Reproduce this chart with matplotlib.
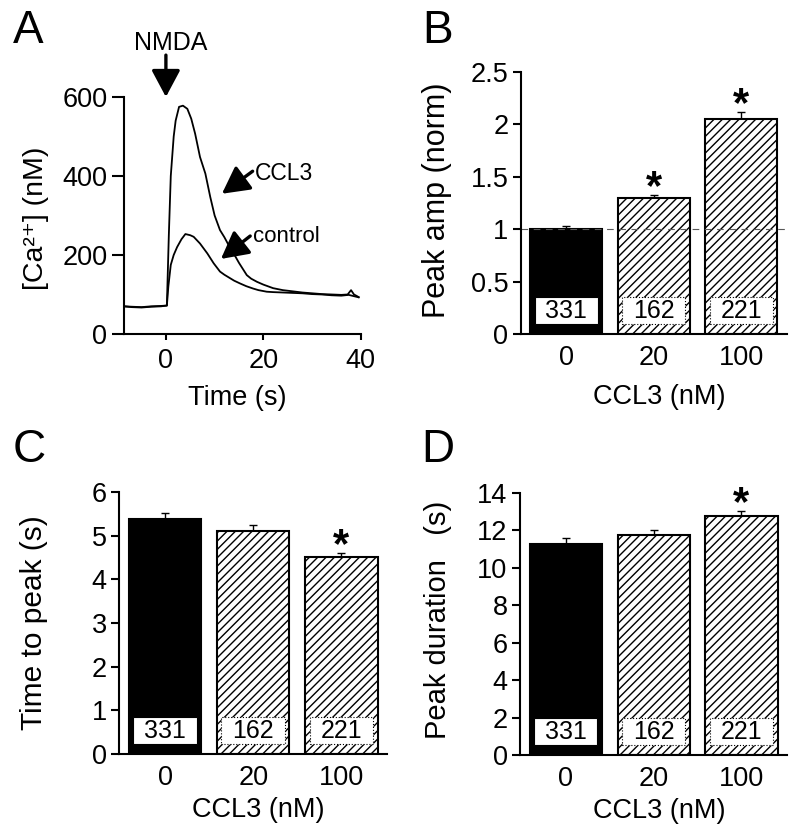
import matplotlib
matplotlib.use("Agg")
import matplotlib.pyplot as plt
from matplotlib.patches import Rectangle
import matplotlib.transforms as mtransforms

plt.rcParams['font.family'] = ['Liberation Sans', 'DejaVu Sans']
plt.rcParams['hatch.linewidth'] = 1.0

# panel A: calcium traces
t_ctrl = [-8.6, -7, -5, -3, -1, 0.2, 0.5, 1.0, 1.6, 2.3, 3.2, 4.0, 5.0, 5.7, 7.0, 8.5, 9.8,
          11.1, 12.0, 13.2, 14.0, 15.2, 16.5, 17.9, 19.0, 20.7, 22, 24, 26, 28, 30, 32, 34,
          36, 37.5, 38.5, 39.5]
ca_ctrl = [70, 68, 67, 69, 70, 72, 120, 175, 200, 220, 240, 253, 250, 246, 229, 204, 179,
           158, 150, 141, 135, 128, 121, 115, 111, 107, 106, 105, 104, 103, 101, 100, 98,
           97, 99, 96, 93]
t_ccl3 = [-8.6, -7, -5, -3, -1, 0.2, 0.6, 1.0, 1.6, 2.0, 2.7, 3.5, 4.4, 5.2, 6.0, 7.0, 8.1,
          9.1, 10.0, 11.1, 12.0, 13.0, 13.9, 15.0, 16.6, 17.5, 18.7, 20, 22, 24, 26, 28,
          30, 32, 34, 36, 37.3, 38.0, 38.6, 39.2, 39.6]
ca_ccl3 = [70, 69, 68, 70, 71, 72, 250, 400, 500, 540, 575, 578, 570, 545, 507, 448, 406,
           347, 300, 263, 245, 222, 204, 180, 149, 140, 132, 125, 116, 111, 108, 105,
           103, 101, 100, 99, 100, 111, 100, 96, 93]

# bar panels
conc_labels = ['0', '20', '100']
n_cells = ['331', '162', '221']

peak_amp = [1.0, 1.30, 2.05]
peak_amp_err = [0.03, 0.03, 0.07]
peak_amp_sig = [False, True, True]

time_to_peak = [5.37, 5.10, 4.50]
time_to_peak_err = [0.15, 0.14, 0.11]
time_to_peak_sig = [False, False, True]

peak_dur = [11.26, 11.73, 12.76]
peak_dur_err = [0.34, 0.27, 0.26]
peak_dur_sig = [False, False, True]


def style_axes(ax):
    ax.spines['top'].set_visible(False)
    ax.spines['right'].set_visible(False)
    ax.spines['left'].set_linewidth(1.5)
    ax.spines['bottom'].set_linewidth(1.5)


def draw_trace(ax):
    ax.plot(t_ctrl, ca_ctrl, 'k', lw=1.3, clip_on=False)
    ax.plot(t_ccl3, ca_ccl3, 'k', lw=1.3, clip_on=False)
    ax.set_xlim(-8.6, 40)
    ax.set_ylim(0, 600)
    ax.set_xticks([0, 20, 40])
    ax.set_yticks([0, 200, 400, 600])
    style_axes(ax)
    ax.tick_params(axis='y', length=9, width=1.5, labelsize=19.5, pad=3)
    ax.tick_params(axis='x', length=4, width=1.5, labelsize=19.5, pad=6)
    ax.set_xlabel('Time (s)', fontsize=19.5)
    ax.xaxis.set_label_coords(0.48, -0.215)
    ax.set_ylabel('[Ca²⁺] (nM)', fontsize=20.5)
    ax.yaxis.set_label_coords(-0.315, 0.49)

    head = dict(arrowstyle='-|>,head_length=0.75,head_width=0.4', color='k', lw=2.4,
                mutation_scale=22, shrinkA=0, shrinkB=0)
    ax.annotate('', xy=(0, 600), xytext=(0, 706), arrowprops=head, annotation_clip=False)
    ax.text(1.0, 737, 'NMDA', fontsize=18, ha='center', va='center', clip_on=False)
    ax.annotate('', xy=(11.5, 355), xytext=(17.8, 412), arrowprops=head)
    ax.text(18.3, 407, 'CCL3', fontsize=16.5, ha='left', va='center')
    ax.annotate('', xy=(11.3, 190), xytext=(17.3, 248), arrowprops=head)
    ax.text(17.9, 246, 'control', fontsize=16, ha='left', va='center')


def draw_bars(ax, values, errors, sig, ylim, yticks, ylabel, ylabel_size):
    x = list(range(len(values)))
    faces = ['black', 'white', 'white']
    hatches = [None, '////', '////']
    bars = ax.bar(x, values, width=0.82, color=faces, edgecolor='black', linewidth=1.5,
                  zorder=2)
    for b, h in zip(bars, hatches):
        if h:
            b.set_hatch(h)
    ax.errorbar(x, values, yerr=[[0] * len(values), errors], fmt='none', ecolor='black',
                elinewidth=1.0, capsize=3, capthick=1.0, zorder=1)

    trans = mtransforms.blended_transform_factory(ax.transData, ax.transAxes)
    for xi, n, h in zip(x, n_cells, hatches):
        ls = ':' if h else '-'
        ax.add_patch(Rectangle((xi - 0.36, 0.04), 0.72, 0.10, transform=trans,
                               facecolor='white', edgecolor='black', lw=0.8, ls=ls, zorder=3))
        ax.text(xi, 0.088, n, transform=trans, fontsize=18, ha='center', va='center',
                zorder=4)

    for xi, v, e, s in zip(x, values, errors, sig):
        if s:
            ax.annotate('*', xy=(xi, v + e), xytext=(0, -3), textcoords='offset points',
                        ha='center', va='baseline', fontsize=30, fontweight='bold',
                        annotation_clip=False)

    ax.set_xlim(-0.52, 2.52)
    ax.set_ylim(*ylim)
    ax.set_yticks(yticks)
    ax.set_xticks(x)
    ax.set_xticklabels(conc_labels)
    style_axes(ax)
    ax.tick_params(axis='y', length=6, width=1.5, labelsize=19.5, pad=3)
    ax.tick_params(axis='x', length=0, labelsize=19.5, pad=8)
    ax.set_xlabel('CCL3 (nM)', fontsize=19.5)
    ax.set_ylabel(ylabel, fontsize=ylabel_size)
    return ax


def main():
    fig = plt.figure(figsize=(8, 8.36), dpi=100)

    ax_a = fig.add_axes([0.155, 0.6005, 0.296, 0.2835])
    ax_b = fig.add_axes([0.651, 0.6005, 0.3325, 0.3134])
    ax_c = fig.add_axes([0.149, 0.0981, 0.335, 0.3134])
    ax_d = fig.add_axes([0.650, 0.0969, 0.334, 0.3134])

    draw_trace(ax_a)

    ax_b.axhline(1.0, color='0.35', lw=0.8, dashes=(6, 5), zorder=2.5)
    draw_bars(ax_b, peak_amp, peak_amp_err, peak_amp_sig, (0, 2.5),
              [0, 0.5, 1, 1.5, 2, 2.5], 'Peak amp (norm)', 22)
    ax_b.set_yticklabels(['0', '0.5', '1', '1.5', '2', '2.5'])
    ax_b.xaxis.set_label_coords(0.52, -0.19)
    ax_b.yaxis.set_label_coords(-0.26, 0.51)

    draw_bars(ax_c, time_to_peak, time_to_peak_err, time_to_peak_sig, (0, 6),
              range(0, 7), 'Time to peak (s)', 21.5)
    ax_c.xaxis.set_label_coords(0.52, -0.165)
    ax_c.yaxis.set_label_coords(-0.265, 0.5)

    draw_bars(ax_d, peak_dur, peak_dur_err, peak_dur_sig, (0, 14),
              range(0, 15, 2), 'Peak duration   (s)', 21)
    ax_d.xaxis.set_label_coords(0.52, -0.165)
    ax_d.yaxis.set_label_coords(-0.255, 0.515)

    for letter, (px, py) in zip('ABCD', [(28, 31), (438, 31), (29, 450), (438, 450)]):
        fig.text(px / 800, 1 - py / 836, letter, fontsize=33, ha='center', va='center')

    fig.savefig('out.png', dpi=100)


if __name__ == "__main__":
    main()
